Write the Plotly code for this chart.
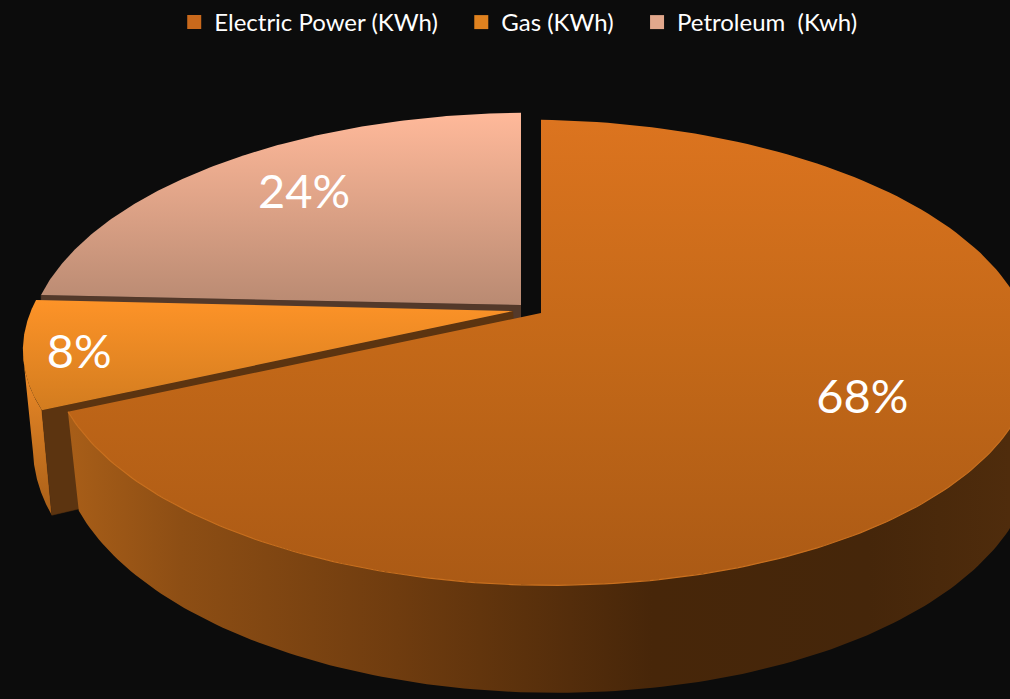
import numpy as np
import plotly.graph_objects as go

categories = ["Electric Power (KWh)", "Gas (KWh)", "Petroleum  (Kwh)"]
values = [68, 8, 24]
legend_colors = ["#c9691c", "#e0821f", "#e2a88c"]

BG = "#0c0c0c"
K = 0.17

# per-slice placement of the exploded top face and of the bottom face (pixel-axis units)
top_face = [dict(x0=541, y0=313, fx=485, gy=226, tilt=5.5),
            dict(x0=513, y0=311, fx=483, gy=212, tilt=-2.2),
            dict(x0=521, y0=305, fx=486, gy=225, tilt=-4)]
bot_face = [dict(x0=547, y0=406, fx=480, gy=238, tilt=5),
            dict(x0=520, y0=406, fx=480, gy=238, tilt=0),
            dict(x0=521, y0=400, fx=486, gy=226, tilt=-4)]
label_r = [0.715, 0.89, 0.725]
label_turn = [-3, -2, 1]

top_grad = [[[0, "#dc741f"], [0.5, "#c36818"], [1, "#ab5a15"]],
            [[0, "#ff9428"], [1, "#d27c1f"]],
            [[0, "#ffb99a"], [1, "#b98a72"]]]


def project(theta, r, f):
    t = np.radians(theta)
    u, v = r * np.sin(t), r * np.cos(t)
    d = 1 + K * v
    return f["x0"] + f["fx"] * u / d, f["y0"] - f["gy"] * v / d + f["tilt"] * u


def arc(a, b, f, n=160):
    return project(np.linspace(a, b, n), np.ones(n), f)


def poly(x, y, **kw):
    return go.Scatter(x=np.round(x, 2), y=np.round(y, 2), mode="lines", fill="toself",
                      hoverinfo="skip", showlegend=False, **kw)


def solid(c):
    return dict(line=dict(width=0.5, color=c), fillcolor=c)


def grad(c, kind, start=None, stop=None):
    g = dict(type=kind, colorscale=c)
    if start is not None:
        g.update(start=start, stop=stop)
    return dict(line=dict(width=0), fillgradient=g)


cum = np.cumsum([0] + values) / sum(values) * 360
ranges = [(cum[i], cum[i + 1]) for i in range(3)]

fig = go.Figure()


def radial_wall(angle, i, color):
    tx, ty = project(np.array([0.0, angle]), np.array([0.0, 1.0]), top_face[i])
    bx, by = project(np.array([angle, 0.0]), np.array([1.0, 0.0]), bot_face[i])
    return poly(np.r_[tx, bx], np.r_[ty, by], **solid(color))


def top_poly(i):
    a, b = ranges[i]
    ax, ay = arc(a, b, top_face[i])
    cx, cy = project(np.array([0.0]), np.array([0.0]), top_face[i])
    return np.r_[cx, ax], np.r_[cy, ay]


def outer_wall(a, b, i):
    ax, ay = arc(a, b, top_face[i])
    bx, by = arc(b, a, bot_face[i])
    return np.r_[ax, bx], np.r_[ay, by]


# Petroleum
fig.add_trace(radial_wall(ranges[2][0], 2, "#53392a"))
x, y = top_poly(2)
fig.add_trace(poly(x, y, **grad(top_grad[2], "vertical", 113, 305)))

# Gas
x, y = outer_wall(ranges[1][0], (ranges[1][0] + ranges[1][1]) / 2, 1)
fig.add_trace(poly(x, y, **grad([[0, "#a85f18"], [1, "#f08c28"]], "vertical", 515, 360)))
fig.add_trace(radial_wall(ranges[1][0], 1, "#5c3410"))
x, y = top_poly(1)
fig.add_trace(poly(x, y, **grad(top_grad[1], "vertical", 296, 410)))

# Electric power
x, y = outer_wall(95, ranges[0][1], 0)
fig.add_trace(poly(x, y, **grad([[0, "#a85e18"], [0.12, "#8d4e14"], [0.35, "#6f3c0f"],
                                 [0.62, "#472609"], [0.85, "#45260a"], [1, "#4f2c0c"]],
                                "horizontal", 68, 1010)))
x, y = top_poly(0)
fig.add_trace(poly(x, y, **grad(top_grad[0], "vertical", 120, 583)))
x, y = arc(100, ranges[0][1], top_face[0])
fig.add_trace(go.Scatter(x=np.round(x, 2), y=np.round(y, 2), mode="lines", hoverinfo="skip",
                         showlegend=False, line=dict(width=1.2, color="#c9701f")))

# Percentage labels
lx, ly = [], []
for i, (a, b) in enumerate(ranges):
    px, py = project(np.array([(a + b) / 2 + label_turn[i]]), np.array([label_r[i]]), top_face[i])
    lx.append(float(px[0]))
    ly.append(float(py[0]))
fig.add_trace(go.Scatter(x=lx, y=ly, mode="text", text=[f"{v}%" for v in values],
                         textposition="middle center", hoverinfo="skip", showlegend=False,
                         textfont=dict(family="Lato", size=47, color="white")))

# Legend entries (trailing no-break spaces widen the gap between entries)
for name, c in zip(categories, legend_colors):
    fig.add_trace(go.Scatter(x=[None], y=[None], mode="markers", name=name + "\u00a0" * 3,
                             marker=dict(symbol="square", size=14, color=c)))

fig.update_layout(
    width=1010, height=699,
    margin=dict(l=0, r=0, t=0, b=0),
    paper_bgcolor=BG, plot_bgcolor=BG,
    xaxis=dict(range=[0, 1010], visible=False, fixedrange=True),
    yaxis=dict(range=[699, 0], visible=False, fixedrange=True),
    legend=dict(orientation="h", x=0.5225, xanchor="center", y=1.0, yanchor="top",
                font=dict(family="Lato", size=24, color="white"),
                itemwidth=30, bgcolor="rgba(0,0,0,0)"),
    showlegend=True,
)
fig.write_html("out.html", config=dict(displayModeBar=False),
               post_script="document.body.style.margin='0';document.body.style.background='%s';" % BG)
